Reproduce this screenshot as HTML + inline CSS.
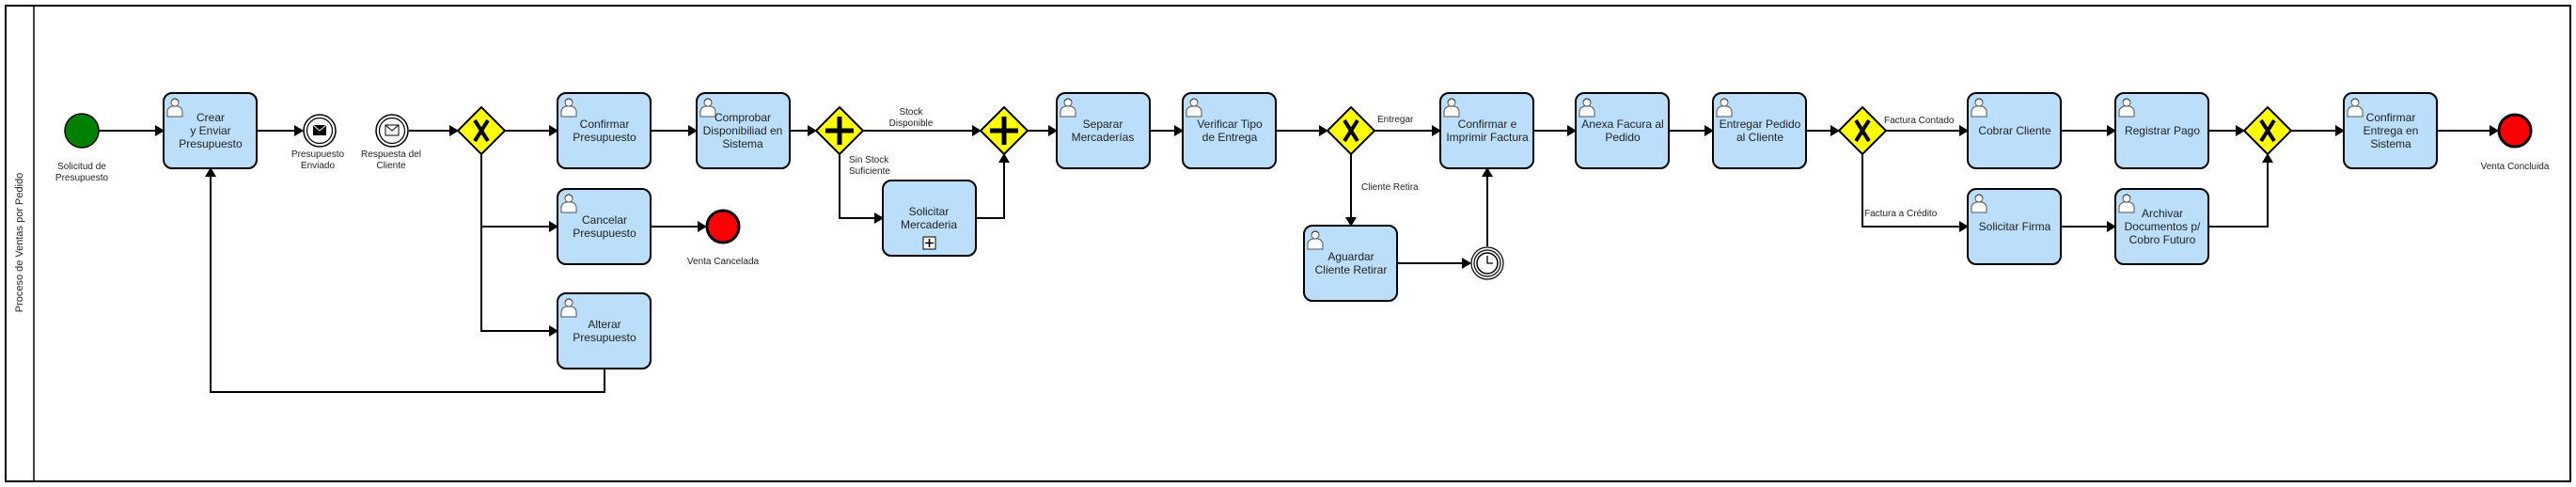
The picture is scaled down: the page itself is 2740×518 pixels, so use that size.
<!DOCTYPE html>
<html><head><meta charset="utf-8"><style>
html,body{margin:0;padding:0;background:#fff;}
svg{display:block;font-family:"Liberation Sans",sans-serif;}
.t{font-size:12px;fill:#222;text-anchor:middle;}
.l{font-size:10px;fill:#222;}
.task{fill:#BBDEFB;stroke:#000;stroke-width:2;}
.e{stroke:#000;stroke-width:2;fill:none;}
</style></head><body>
<svg width="2740" height="518" viewBox="0 0 2740 518" xmlns="http://www.w3.org/2000/svg">
<defs>
<marker id="a" markerUnits="userSpaceOnUse" markerWidth="10" markerHeight="12" refX="9" refY="6" orient="auto"><path d="M0,0 L10,6 L0,12 z" fill="#000"/></marker>
<g id="u"><circle cx="9" cy="6" r="4" fill="#fff" stroke="#555" stroke-width="1"/><path d="M5,5 Q9,0 13,5 L13,4 Q9,-1 5,4z" fill="#222"/><path d="M1,21 L1,15 Q2,11 6,10 L12,10 Q16,11 17,15 L17,21 z" fill="#fff" stroke="#555" stroke-width="1"/></g>
<g id="gx"><path d="M0,-25 L25,0 L0,25 L-25,0 z" fill="#FFFF00" stroke="#000" stroke-width="2"/><path d="M-7,-11 L7,11 M7,-11 L-7,11" stroke="#000" stroke-width="4"/></g>
<g id="gp"><path d="M0,-25 L25,0 L0,25 L-25,0 z" fill="#FFFF00" stroke="#000" stroke-width="2"/><path d="M0,-15 V15 M-15,0 H15" stroke="#000" stroke-width="5"/></g>
</defs>
<rect x="6" y="6" width="2728" height="506" fill="none" stroke="#000" stroke-width="2"/>
<line x1="36" y1="6" x2="36" y2="512" stroke="#000" stroke-width="1.5"/>
<text x="24" y="258" transform="rotate(-90 24 258)" style="font-size:11px;text-anchor:middle;fill:#222">Proceso de Ventas por Pedido</text>

<!-- edges -->
<g class="e">
<path d="M105,139 H174" marker-end="url(#a)"/>
<path d="M273,139 H322" marker-end="url(#a)"/>
<path d="M435,139 H487" marker-end="url(#a)"/>
<path d="M537,139 H593" marker-end="url(#a)"/>
<path d="M692,139 H741" marker-end="url(#a)"/>
<path d="M840,139 H868" marker-end="url(#a)"/>
<path d="M512,164 V352 H593" marker-end="url(#a)"/>
<path d="M512,241 H593" marker-end="url(#a)"/>
<path d="M692,241 H751" marker-end="url(#a)"/>
<path d="M643,392 V417 H224 V179" marker-end="url(#a)"/>
<path d="M918,139 H1043" marker-end="url(#a)"/>
<path d="M893,164 V232 H939" marker-end="url(#a)"/>
<path d="M1038,232 H1068 V164" marker-end="url(#a)"/>
<path d="M1093,139 H1124" marker-end="url(#a)"/>
<path d="M1223,139 H1258" marker-end="url(#a)"/>
<path d="M1357,139 H1412" marker-end="url(#a)"/>
<path d="M1462,139 H1532" marker-end="url(#a)"/>
<path d="M1437,164 V240" marker-end="url(#a)"/>
<path d="M1487,280 H1564" marker-end="url(#a)"/>
<path d="M1582,262 V179" marker-end="url(#a)"/>
<path d="M1632,139 H1676" marker-end="url(#a)"/>
<path d="M1776,139 H1822" marker-end="url(#a)"/>
<path d="M1921,139 H1956" marker-end="url(#a)"/>
<path d="M2006,139 H2093" marker-end="url(#a)"/>
<path d="M1981,164 V241 H2093" marker-end="url(#a)"/>
<path d="M2192,139 H2250" marker-end="url(#a)"/>
<path d="M2192,241 H2250" marker-end="url(#a)"/>
<path d="M2349,139 H2387" marker-end="url(#a)"/>
<path d="M2349,241 H2412 V164" marker-end="url(#a)"/>
<path d="M2437,139 H2493" marker-end="url(#a)"/>
<path d="M2592,139 H2657" marker-end="url(#a)"/>
</g>

<!-- events -->
<circle cx="87" cy="139" r="18" fill="#008000" stroke="#000" stroke-width="1.5"/>
<text class="l" x="87" y="180" text-anchor="middle">Solicitud de</text>
<text class="l" x="87" y="192" text-anchor="middle">Presupuesto</text>

<circle cx="340" cy="139" r="17" fill="#fff" stroke="#000" stroke-width="1.5"/>
<circle cx="340" cy="139" r="13.5" fill="#fff" stroke="#000" stroke-width="1.2"/>
<rect x="333" y="133" width="14" height="11" fill="#000"/><path d="M333,133 L340,139 L347,133" stroke="#fff" fill="none" stroke-width="1"/>
<text class="l" x="338" y="167" text-anchor="middle">Presupuesto</text>
<text class="l" x="338" y="179" text-anchor="middle">Enviado</text>

<circle cx="417" cy="139" r="17" fill="#fff" stroke="#000" stroke-width="1.5"/>
<circle cx="417" cy="139" r="13.5" fill="#fff" stroke="#000" stroke-width="1.2"/>
<rect x="410" y="133" width="14" height="11" fill="#fff" stroke="#000" stroke-width="1"/><path d="M410,133 L417,139 L424,133" stroke="#000" fill="none" stroke-width="1"/>
<text class="l" x="416" y="167" text-anchor="middle">Respuesta del</text>
<text class="l" x="416" y="179" text-anchor="middle">Cliente</text>

<circle cx="769" cy="241" r="17" fill="#FF0000" stroke="#000" stroke-width="3"/>
<text class="l" x="769" y="281" text-anchor="middle">Venta Cancelada</text>

<circle cx="1582" cy="280" r="17" fill="#fff" stroke="#000" stroke-width="1.2"/>
<circle cx="1582" cy="280" r="14" fill="#fff" stroke="#000" stroke-width="1.2"/>
<circle cx="1582" cy="280" r="11" fill="#fff" stroke="#000" stroke-width="1.5"/>
<path d="M1582,272 V280 H1588" stroke="#000" fill="none" stroke-width="1.3"/>

<circle cx="2675" cy="139" r="17" fill="#FF0000" stroke="#000" stroke-width="3"/>
<text class="l" x="2675" y="180" text-anchor="middle">Venta Concluida</text>

<!-- gateways -->
<use href="#gx" x="512" y="139"/>
<use href="#gp" x="893" y="139"/>
<use href="#gp" x="1068" y="139"/>
<use href="#gx" x="1437" y="139"/>
<use href="#gx" x="1981" y="139"/>
<use href="#gx" x="2412" y="139"/>

<!-- edge labels -->
<text class="l" x="969" y="122" text-anchor="middle">Stock</text>
<text class="l" x="969" y="134" text-anchor="middle">Disponible</text>
<text class="l" x="903" y="173">Sin Stock</text>
<text class="l" x="903" y="185">Suficiente</text>
<text class="l" x="1465" y="130">Entregar</text>
<text class="l" x="1448" y="202">Cliente Retira</text>
<text class="l" x="2004" y="131">Factura Contado</text>
<text class="l" x="1983" y="230">Factura a Crédito</text>

<!-- tasks -->
<g>
<rect class="task" x="174" y="99" width="99" height="80" rx="9"/><use href="#u" x="177" y="103"/>
<text class="t" x="224" y="129">Crear</text><text class="t" x="224" y="143">y Enviar</text><text class="t" x="224" y="157">Presupuesto</text>

<rect class="task" x="593" y="99" width="99" height="80" rx="9"/><use href="#u" x="596" y="103"/>
<text class="t" x="643" y="136">Confirmar</text><text class="t" x="643" y="150">Presupuesto</text>

<rect class="task" x="741" y="99" width="99" height="80" rx="9"/><use href="#u" x="744" y="103"/>
<text class="t" x="790" y="129">Comprobar</text><text class="t" x="790" y="143">Disponibiliad en</text><text class="t" x="790" y="157">Sistema</text>

<rect class="task" x="593" y="201" width="99" height="80" rx="9"/><use href="#u" x="596" y="205"/>
<text class="t" x="643" y="238">Cancelar</text><text class="t" x="643" y="252">Presupuesto</text>

<rect class="task" x="593" y="312" width="99" height="80" rx="9"/><use href="#u" x="596" y="316"/>
<text class="t" x="643" y="349">Alterar</text><text class="t" x="643" y="363">Presupuesto</text>

<rect class="task" x="939" y="192" width="99" height="80" rx="9"/>
<text class="t" x="988" y="229">Solicitar</text><text class="t" x="988" y="243">Mercaderia</text>
<rect x="982" y="252" width="13" height="13" fill="#fff" stroke="#000" stroke-width="1"/><path d="M988.5,254 V263 M984,258.5 H993" stroke="#000" stroke-width="1.6"/>

<rect class="task" x="1124" y="99" width="99" height="80" rx="9"/><use href="#u" x="1127" y="103"/>
<text class="t" x="1173" y="136">Separar</text><text class="t" x="1173" y="150">Mercaderías</text>

<rect class="task" x="1258" y="99" width="99" height="80" rx="9"/><use href="#u" x="1261" y="103"/>
<text class="t" x="1308" y="136">Verificar Tipo</text><text class="t" x="1308" y="150">de Entrega</text>

<rect class="task" x="1387" y="240" width="99" height="80" rx="9"/><use href="#u" x="1390" y="244"/>
<text class="t" x="1437" y="277">Aguardar</text><text class="t" x="1437" y="291">Cliente Retirar</text>

<rect class="task" x="1532" y="99" width="99" height="80" rx="9"/><use href="#u" x="1535" y="103"/>
<text class="t" x="1582" y="136">Confirmar e</text><text class="t" x="1582" y="150">Imprimir Factura</text>

<rect class="task" x="1676" y="99" width="99" height="80" rx="9"/><use href="#u" x="1679" y="103"/>
<text class="t" x="1726" y="136">Anexa Facura al</text><text class="t" x="1726" y="150">Pedido</text>

<rect class="task" x="1822" y="99" width="99" height="80" rx="9"/><use href="#u" x="1825" y="103"/>
<text class="t" x="1872" y="136">Entregar Pedido</text><text class="t" x="1872" y="150">al Cliente</text>

<rect class="task" x="2093" y="99" width="99" height="80" rx="9"/><use href="#u" x="2096" y="103"/>
<text class="t" x="2143" y="143">Cobrar Cliente</text>

<rect class="task" x="2250" y="99" width="99" height="80" rx="9"/><use href="#u" x="2253" y="103"/>
<text class="t" x="2300" y="143">Registrar Pago</text>

<rect class="task" x="2093" y="201" width="99" height="80" rx="9"/><use href="#u" x="2096" y="205"/>
<text class="t" x="2143" y="245">Solicitar Firma</text>

<rect class="task" x="2250" y="201" width="99" height="80" rx="9"/><use href="#u" x="2253" y="205"/>
<text class="t" x="2300" y="231">Archivar</text><text class="t" x="2300" y="245">Documentos p/</text><text class="t" x="2300" y="259">Cobro Futuro</text>

<rect class="task" x="2493" y="99" width="99" height="80" rx="9"/><use href="#u" x="2496" y="103"/>
<text class="t" x="2543" y="129">Confirmar</text><text class="t" x="2543" y="143">Entrega en</text><text class="t" x="2543" y="157">Sistema</text>
</g>
</svg>
</body></html>
